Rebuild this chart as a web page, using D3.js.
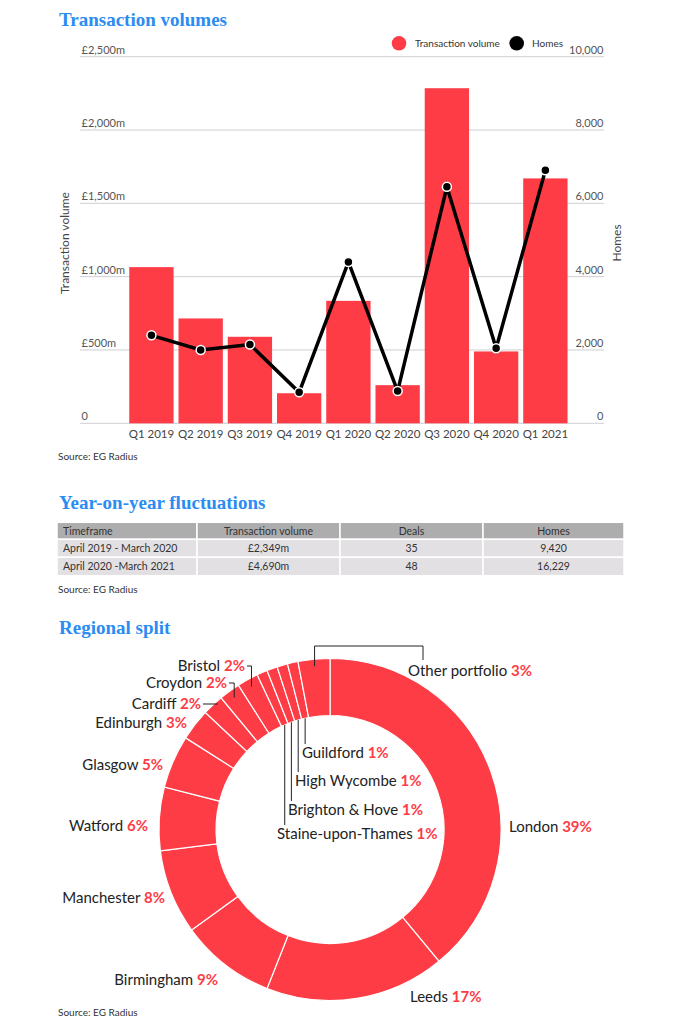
<!DOCTYPE html>
<html><head><meta charset="utf-8">
<script src="https://cdn.jsdelivr.net/npm/d3@7"></script>
<style>
html,body{margin:0;padding:0;background:#fff;}
svg{display:block;}
.sans{font-family:Lato,"Open Sans",sans-serif;}
.title{font-family:"Liberation Serif","DejaVu Serif",serif;font-weight:bold;fill:#2b8cf2;}
</style></head>
<body>
<svg id="c" width="683" height="1024"></svg>
<script>
// ---------- data ----------
const quarters = ["Q1 2019","Q2 2019","Q3 2019","Q4 2019","Q1 2020","Q2 2020","Q3 2020","Q4 2020","Q1 2021"];
const volume = [1065, 715, 590, 205, 835, 260, 2285, 490, 1670];   // £m
const homes = [2400, 2000, 2150, 845, 4400, 880, 6450, 2045, 6900];
const volumeTicks = [0, 500, 1000, 1500, 2000, 2500];
const homesTicks = [0, 2000, 4000, 6000, 8000, 10000];

const tableHeader = ["Timeframe", "Transaction volume", "Deals", "Homes"];
const timeframes = ["April 2019 - March 2020", "April 2020 -March 2021"];
const tableVolume = ["£2,349m", "£4,690m"];
const tableDeals = ["35", "48"];
const tableHomes = ["9,420", "16,229"];

const regions = ["London","Leeds","Birmingham","Manchester","Watford","Glasgow","Edinburgh","Cardiff","Croydon","Bristol","Staine-upon-Thames","Brighton & Hove","High Wycombe","Guildford","Other portfolio"];
const regionShare = [39,17,9,8,6,5,3,2,2,2,1,1,1,1,3];

// ---------- layout (positions only) ----------
const labelLayout = {
  "London": {x:509, y:832, a:"start", lead:"none"},
  "Leeds": {x:410, y:1002, a:"start", lead:"none"},
  "Birmingham": {x:218, y:985, a:"end", lead:"none"},
  "Manchester": {x:165, y:903, a:"end", lead:"none"},
  "Watford": {x:148, y:831, a:"end", lead:"none"},
  "Glasgow": {x:163, y:770, a:"end", lead:"none"},
  "Edinburgh": {x:187, y:728, a:"end", lead:"none"},
  "Cardiff": {x:201, y:709, a:"end", lead:"horiz"},
  "Croydon": {x:227, y:688, a:"end", lead:"elbow"},
  "Bristol": {x:245, y:671, a:"end", lead:"elbow"},
  "Staine-upon-Thames": {x:277, y:839, a:"start", lead:"vert"},
  "Brighton & Hove": {x:288, y:815, a:"start", lead:"vert"},
  "High Wycombe": {x:295, y:786, a:"start", lead:"vert"},
  "Guildford": {x:302, y:758, a:"start", lead:"vert"},
  "Other portfolio": {x:408, y:676, a:"start", lead:"bracket"}
};

const RED = "#fe3c46";
const svg = d3.select("#c");

// ---------- Chart 1 ----------
svg.append("text").attr("class","title").attr("x",59).attr("y",26).attr("font-size",19).text("Transaction volumes");

const x = d3.scaleBand().domain(quarters).range([126.8, 570]).paddingInner(0.1).paddingOuter(0.05);
const yL = d3.scaleLinear().domain([0,2500]).range([423.3, 56.7]);
const yR = d3.scaleLinear().domain([0,10000]).range([423.3, 56.7]);
const gx0 = 80, gx1 = 604;

const g1 = svg.append("g").attr("class","sans");
g1.selectAll("line.grid").data(volumeTicks).join("line")
  .attr("x1",gx0).attr("x2",gx1).attr("y1",d=>yL(d)).attr("y2",d=>yL(d))
  .attr("stroke","#cfcfd4").attr("stroke-width",1);

const fmtL = v => v===0 ? "0" : "£" + d3.format(",")(v) + "m";
g1.selectAll("text.tl").data(volumeTicks).join("text")
  .attr("x",81.5).attr("y",d=>yL(d)-3).attr("font-size",11).attr("fill","#555").text(fmtL);
g1.selectAll("text.tr").data(homesTicks).join("text")
  .attr("x",603.5).attr("y",d=>yR(d)-3).attr("text-anchor","end").attr("font-size",11).attr("fill","#555")
  .text(d=>d3.format(",")(d));

g1.selectAll("rect.bar").data(volume).join("rect")
  .attr("x",(d,i)=>x(quarters[i])).attr("width",x.bandwidth())
  .attr("y",d=>yL(d)).attr("height",d=>yL(0)-yL(d)).attr("fill",RED);

g1.selectAll("text.xl").data(quarters).join("text")
  .attr("x",d=>x(d)+x.bandwidth()/2).attr("y",438).attr("text-anchor","middle")
  .attr("font-size",11.5).attr("fill","#444").text(d=>d);

const line = d3.line().x((d,i)=>x(quarters[i])+x.bandwidth()/2).y(d=>yR(d));
g1.append("path").datum(homes).attr("d",line).attr("fill","none").attr("stroke","#000").attr("stroke-width",3.5).attr("stroke-linejoin","miter");
g1.selectAll("circle.pt").data(homes).join("circle")
  .attr("cx",(d,i)=>x(quarters[i])+x.bandwidth()/2).attr("cy",d=>yR(d)).attr("r",4.5)
  .attr("fill","#000").attr("stroke","#fff").attr("stroke-width",1.5);

g1.append("text").attr("transform","translate(69,243) rotate(-90)").attr("text-anchor","middle")
  .attr("font-size",12).attr("fill","#444").text("Transaction volume");
g1.append("text").attr("transform","translate(621,243) rotate(-90)").attr("text-anchor","middle")
  .attr("font-size",12).attr("fill","#444").text("Homes");

// legend
g1.append("circle").attr("cx",399).attr("cy",43.3).attr("r",7.3).attr("fill",RED);
g1.append("text").attr("x",415).attr("y",46.8).attr("font-size",10).attr("fill","#333").text("Transaction volume");
g1.append("circle").attr("cx",516.7).attr("cy",43.3).attr("r",7.3).attr("fill","#000");
g1.append("text").attr("x",532).attr("y",46.8).attr("font-size",10).attr("fill","#333").text("Homes");

g1.append("text").attr("x",58).attr("y",460).attr("font-size",10).attr("fill","#333").text("Source: EG Radius");

// ---------- Table ----------
svg.append("text").attr("class","title").attr("x",59).attr("y",509).attr("font-size",19).text("Year-on-year fluctuations");
const colX = [57, 197, 340, 483, 624];
const rowY = [522.3, 539.3, 557.3, 575.7];
const rows = [tableHeader, ...timeframes.map((t,i)=>[t, tableVolume[i], tableDeals[i], tableHomes[i]])];
const gt = svg.append("g").attr("class","sans");
rows.forEach((r,ri)=>{
  r.forEach((cell,ci)=>{
    gt.append("rect").attr("x",colX[ci]).attr("y",rowY[ri]).attr("width",colX[ci+1]-colX[ci]).attr("height",rowY[ri+1]-rowY[ri])
      .attr("fill", ri===0 ? "#aeadae" : "#e3e0e3").attr("stroke","#fff").attr("stroke-width",1.5);
    gt.append("text").attr("x", ci===0 ? colX[0]+6 : (colX[ci]+colX[ci+1])/2)
      .attr("y",(rowY[ri]+rowY[ri+1])/2+3.8).attr("text-anchor", ci===0 ? "start" : "middle")
      .attr("font-size",10.5).attr("fill","#333").text(cell);
  });
});
gt.append("text").attr("x",58).attr("y",593).attr("font-size",10).attr("fill","#333").text("Source: EG Radius");

// ---------- Donut ----------
svg.append("text").attr("class","title").attr("x",59).attr("y",634).attr("font-size",19).text("Regional split");
const cx = 330, cy = 829.5, R = 171, r0 = 114;
const pie = d3.pie().sort(null).value(d=>d)(regionShare);
const arc = d3.arc().innerRadius(r0).outerRadius(R);
const gd = svg.append("g").attr("transform",`translate(${cx},${cy})`);
gd.selectAll("path").data(pie).join("path").attr("d",arc).attr("fill",RED).attr("stroke","#fff").attr("stroke-width",1.2);

const pt = (d, rad) => { const a = (d.startAngle + d.endAngle)/2; return [cx + rad*Math.sin(a), cy - rad*Math.cos(a)]; };
const gl = svg.append("g").attr("class","sans");
pie.forEach((d,i)=>{
  const name = regions[i], L = labelLayout[name];
  const t = gl.append("text").attr("x",L.x).attr("y",L.y).attr("text-anchor",L.a).attr("font-size",15).attr("fill","#222");
  t.append("tspan").text(name + " ");
  t.append("tspan").attr("font-weight","bold").attr("fill",RED).text(regionShare[i] + "%");
  const ty = L.y - 5;
  let p = null;
  if (L.lead === "elbow") {
    const [px,py] = pt(d,163);
    p = `M${L.x+2},${ty}H${px}V${py}`;
  } else if (L.lead === "horiz") {
    const [px,py] = pt(d,168);
    p = `M${L.x+2},${ty}H${px+3}`;
  } else if (L.lead === "vert") {
    const [px,py] = pt(d,r0);
    p = `M${px},${py}V${L.y-14}`;
  } else if (L.lead === "bracket") {
    const [px,py] = pt(d,164);
    p = `M${px},${py}V646H${L.x+15}V660`;
  }
  if (p) gl.append("path").attr("d",p).attr("fill","none").attr("stroke","#222").attr("stroke-width",1);
});
gl.append("text").attr("x",58).attr("y",1016).attr("font-size",10).attr("fill","#333").text("Source: EG Radius");
</script>
</body></html>
